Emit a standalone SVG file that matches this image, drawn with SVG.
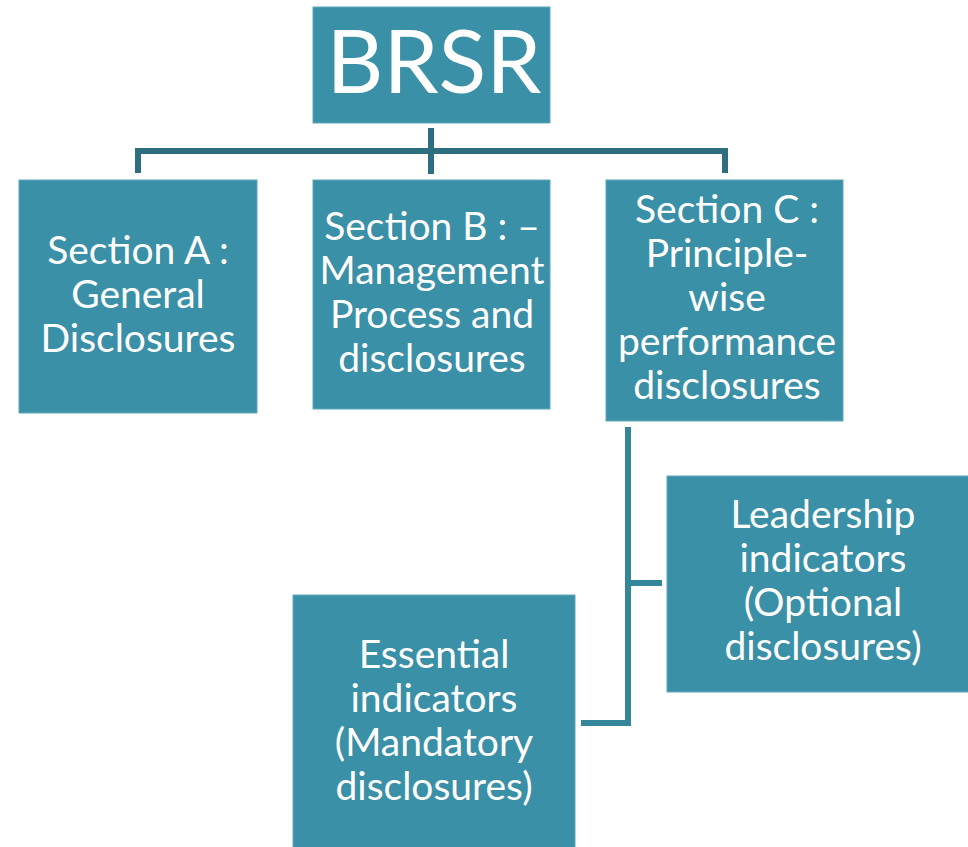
<svg xmlns="http://www.w3.org/2000/svg" width="968" height="847" viewBox="0 0 968 847">
<style>
.box{fill:#3A90A7;stroke:#5FA8BB;stroke-width:1}
.t{font-family:Lato,"Open Sans","Liberation Sans",sans-serif;fill:#FFFFFF;text-anchor:middle;font-size:39px}
.c1{fill:none;stroke:#2D6F7F;stroke-width:6;stroke-linejoin:miter}
.c2{fill:none;stroke:#34869B;stroke-width:6;stroke-linejoin:miter}
</style>
<rect width="968" height="847" fill="#FFFFFF"/>
<g id="connectors">
<path class="c1" d="M431,128 V174"/>
<path class="c1" d="M138,173 V151 H725 V173"/>
<path class="c2" d="M628,427 V723 H581"/>
<path class="c2" d="M628,583 H662"/>
</g>
<g id="brsr">
<rect class="box" x="313" y="7" width="237" height="116"/>
<text class="t" x="434" y="93" style="font-size:88px">BRSR</text>
</g>
<g id="sectionA">
<rect class="box" x="19" y="180" width="238" height="233"/>
<text class="t" x="138" y="264">Section A :</text>
<text class="t" x="138" y="308">General</text>
<text class="t" x="138" y="352">Disclosures</text>
</g>
<g id="sectionB">
<rect class="box" x="313" y="180" width="237" height="229"/>
<text class="t" x="432" y="240">Section B : –</text>
<text class="t" x="432" y="284">Management</text>
<text class="t" x="432" y="328">Process and</text>
<text class="t" x="432" y="372">disclosures</text>
</g>
<g id="sectionC">
<rect class="box" x="606" y="180" width="237" height="241"/>
<text class="t" x="727" y="223">Section C :</text>
<text class="t" x="727" y="267">Principle-</text>
<text class="t" x="727" y="311">wise</text>
<text class="t" x="727" y="355">performance</text>
<text class="t" x="727" y="399">disclosures</text>
</g>
<g id="leadership">
<rect class="box" x="667" y="476" width="305" height="216"/>
<text class="t" x="823" y="528">Leadership</text>
<text class="t" x="823" y="572">indicators</text>
<text class="t" x="823" y="616">(Optional</text>
<text class="t" x="823" y="660">disclosures)</text>
</g>
<g id="essential">
<rect class="box" x="293" y="595" width="282" height="260"/>
<text class="t" x="434" y="668">Essential</text>
<text class="t" x="434" y="712">indicators</text>
<text class="t" x="434" y="756">(Mandatory</text>
<text class="t" x="434" y="800">disclosures)</text>
</g>
</svg>
